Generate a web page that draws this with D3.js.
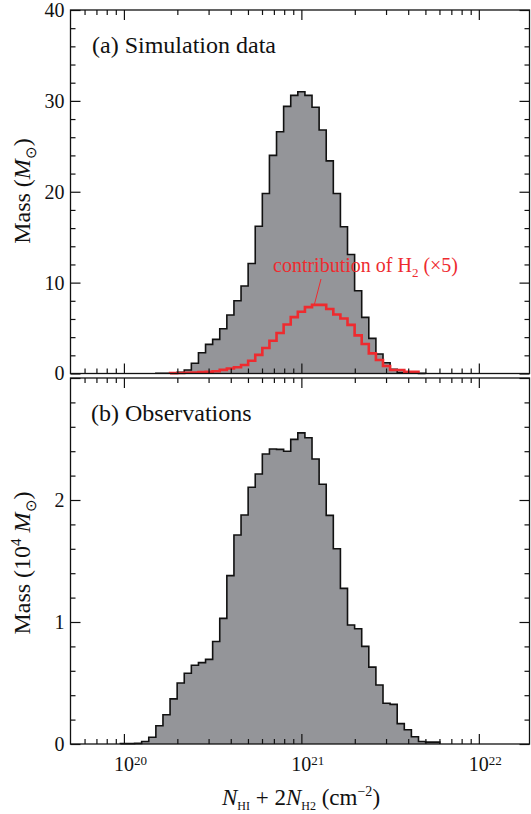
<!DOCTYPE html>
<html>
<head>
<meta charset="utf-8">
<script src="https://cdn.jsdelivr.net/npm/d3@7"></script>
<style>
  body { margin: 0; background: #fff; }
  svg { display: block; }
  text { font-family: "Liberation Serif", "Times New Roman", serif; fill: #111; }
</style>
</head>
<body>
<svg id="chart" width="531" height="814"></svg>
<script>
// Histogram bins: centres in log10(N / cm^-2), bin width 0.04 dex
const binWidth = 0.04;

// (a) simulation: total gas mass per bin (Msun)
const simLogN = [20.20, 20.24, 20.28, 20.32, 20.36, 20.40, 20.44, 20.48, 20.52, 20.56,
                 20.60, 20.64, 20.68, 20.72, 20.76, 20.80, 20.84, 20.88, 20.92, 20.96,
                 21.00, 21.04, 21.08, 21.12, 21.16, 21.20, 21.24, 21.28, 21.32, 21.36,
                 21.40, 21.44, 21.48, 21.52, 21.56, 21.60, 21.64, 21.68];
const simMass = [0.02, 0.03, 0.06, 0.13, 0.39, 1.12, 2.29, 3.2, 3.76, 4.93,
                 6.43, 8.0, 9.63, 12.1, 16.2, 19.8, 24.0, 26.6, 29.4, 30.6,
                 31.0, 30.6, 29.3, 26.8, 23.4, 19.8, 16.15, 13.1, 9.1, 6.18,
                 3.87, 2.15, 1.19, 0.46, 0.12, 0.05, 0.02, 0.01];

// (a) molecular contribution, multiplied by 5
const h2LogN = [20.28, 20.32, 20.36, 20.40, 20.44, 20.48, 20.52, 20.56,
                20.60, 20.64, 20.68, 20.72, 20.76, 20.80, 20.84, 20.88, 20.92, 20.96,
                21.00, 21.04, 21.08, 21.12, 21.16, 21.20, 21.24, 21.28, 21.32, 21.36,
                21.40, 21.44, 21.48, 21.52, 21.56, 21.60, 21.64];
const h2MassX5 = [0.04, 0.05, 0.08, 0.1, 0.15, 0.2, 0.25, 0.4,
                  0.55, 0.68, 0.93, 1.4, 2.05, 2.8, 3.6, 4.45, 5.4, 6.2,
                  6.8, 7.3, 7.55, 7.55, 7.1, 6.5, 6.05, 5.35, 4.2, 3.25,
                  2.22, 1.49, 0.83, 0.39, 0.39, 0.2, 0.2];

// (b) observations: mass per bin (10^4 Msun)
const obsLogN = [20.00, 20.04, 20.08, 20.12, 20.16, 20.20, 20.24, 20.28, 20.32, 20.36,
                 20.40, 20.44, 20.48, 20.52, 20.56, 20.60, 20.64, 20.68, 20.72, 20.76,
                 20.80, 20.84, 20.88, 20.92, 20.96, 21.00, 21.04, 21.08, 21.12, 21.16,
                 21.20, 21.24, 21.28, 21.32, 21.36, 21.40, 21.44, 21.48, 21.52, 21.56,
                 21.60, 21.64, 21.68, 21.72, 21.76];
const obsMass = [0.003, 0.003, 0.005, 0.02, 0.055, 0.15, 0.24, 0.37, 0.50, 0.58,
                 0.645, 0.667, 0.694, 0.84, 1.03, 1.38, 1.713, 1.877, 2.104, 2.213,
                 2.377, 2.418, 2.415, 2.40, 2.497, 2.55, 2.51, 2.336, 2.129, 1.874,
                 1.60, 1.276, 0.975, 0.945, 0.80, 0.63, 0.484, 0.334, 0.325, 0.167,
                 0.117, 0.06, 0.02, 0.015, 0.015];

// Axis ticks
const xMajorTicks = [1e20, 1e21, 1e22];
const xTickExponents = ["20", "21", "22"];
const xMinorTicks = [6e19, 7e19, 8e19, 9e19,
                     2e20, 3e20, 4e20, 5e20, 6e20, 7e20, 8e20, 9e20,
                     2e21, 3e21, 4e21, 5e21, 6e21, 7e21, 8e21, 9e21];
const topYTicks = [0, 10, 20, 30, 40];
const topYMinor = [2, 4, 6, 8, 12, 14, 16, 18, 22, 24, 26, 28, 32, 34, 36, 38];
const botYTicks = [0, 1, 2, 3];
const botYLabels = [0, 1, 2];
const botYMinor = [0.2, 0.4, 0.6, 0.8, 1.2, 1.4, 1.6, 1.8, 2.2, 2.4, 2.6, 2.8];

const svg = d3.select("#chart");
const left = 70.5, right = 529.5;
const x = d3.scaleLog().domain([5e19, 1.93e22]).range([left, right]);
const yTop = d3.scaleLinear().domain([0, 40]).range([373.5, 10]);
const yBot = d3.scaleLinear().domain([0, 3]).range([744, 378]);

const grey = "#949599";
const red = "#ee2b2f";
const tickFont = 20;

// Step outline points for a histogram
function stepPoints(centres, values) {
  const pts = [];
  pts.push([Math.pow(10, centres[0] - binWidth / 2), 0]);
  centres.forEach((c, i) => {
    pts.push([Math.pow(10, c - binWidth / 2), values[i]]);
    pts.push([Math.pow(10, c + binWidth / 2), values[i]]);
  });
  pts.push([Math.pow(10, centres[centres.length - 1] + binWidth / 2), 0]);
  return pts;
}

function drawHist(yScale, centres, values) {
  const pts = stepPoints(centres, values);
  const area = d3.area().x(d => x(d[0])).y0(yScale(0)).y1(d => yScale(d[1]));
  const line = d3.line().x(d => x(d[0])).y(d => yScale(d[1]));
  svg.append("path").attr("d", area(pts)).attr("fill", grey);
  svg.append("path").attr("d", line(pts)).attr("fill", "none")
    .attr("stroke", "#111").attr("stroke-width", 1.6).attr("stroke-linejoin", "miter");
}

function drawFrame(yScale, yTicks, yMinor, yLabels) {
  const [y0, y1] = yScale.range();
  const g = svg.append("g");
  // inward ticks on all four sides
  const axes = [
    [d3.axisLeft(yScale), `translate(${left},0)`, true],
    [d3.axisRight(yScale), `translate(${right},0)`, false]
  ];
  axes.forEach(([ax, tr, labelled]) => {
    g.append("g").attr("transform", tr)
      .call(ax.tickValues(yTicks).tickSize(-10).tickPadding(6)
        .tickFormat(d => (labelled && yLabels.includes(d)) ? d : ""))
      .call(s => s.select(".domain").remove());
    g.append("g").attr("transform", tr)
      .call(ax.tickValues(yMinor).tickSize(-5).tickFormat(""))
      .call(s => s.select(".domain").remove());
  });
  [[d3.axisBottom(x), y0], [d3.axisTop(x), y1]].forEach(([ax, yy]) => {
    g.append("g").attr("transform", `translate(0,${yy})`)
      .call(ax.tickValues(xMajorTicks).tickSize(-10).tickFormat(""))
      .call(s => s.select(".domain").remove());
    g.append("g").attr("transform", `translate(0,${yy})`)
      .call(ax.tickValues(xMinorTicks).tickSize(-5).tickFormat(""))
      .call(s => s.select(".domain").remove());
  });
  g.selectAll(".tick line").attr("stroke", "#111").attr("stroke-width", 1.2);
  g.selectAll(".tick text").attr("font-size", tickFont).attr("fill", "#111")
    .style("font-family", "'Liberation Serif', serif");
  g.append("rect").attr("x", left).attr("y", y1)
    .attr("width", right - left).attr("height", y0 - y1)
    .attr("fill", "none").attr("stroke", "#111").attr("stroke-width", 1.3);
}

// ---- Panel (a)
drawHist(yTop, simLogN, simMass);
const h2Line = d3.line().x(d => x(d[0])).y(d => yTop(d[1]));
svg.append("path").attr("d", h2Line(stepPoints(h2LogN, h2MassX5)))
  .attr("fill", "none").attr("stroke", red).attr("stroke-width", 2.6);
drawFrame(yTop, topYTicks, topYMinor, topYTicks);

// ---- Panel (b)
drawHist(yBot, obsLogN, obsMass);
drawFrame(yBot, botYTicks, botYMinor, botYLabels);

// x tick labels: 10^n
xMajorTicks.forEach((v, i) => {
  svg.append("text").attr("x", x(v)).attr("y", 771)
    .attr("font-size", tickFont).attr("text-anchor", "middle").text("10");
  svg.append("text").attr("x", x(v) + 10).attr("y", 765)
    .attr("font-size", 13).text(xTickExponents[i]);
});

// panel captions
svg.append("text").attr("x", 92).attr("y", 53).attr("font-size", 24)
  .text("(a) Simulation data");
svg.append("text").attr("x", 91).attr("y", 421).attr("font-size", 24)
  .text("(b) Observations");

// H2 annotation
const ann = svg.append("text").attr("x", 273).attr("y", 272)
  .attr("font-size", 20).style("fill", red);
ann.append("tspan").text("contribution of H");
ann.append("tspan").attr("font-size", 13).attr("dy", 5).text("2");
ann.append("tspan").attr("dy", -5).text(" (\u00d75)");
svg.append("line").attr("x1", 321).attr("y1", 279).attr("x2", 314.5).attr("y2", 304)
  .attr("stroke", red).attr("stroke-width", 1);

// y-axis titles
const yt1 = svg.append("text").attr("transform", "translate(30,191) rotate(-90)")
  .attr("text-anchor", "middle").attr("font-size", 24);
yt1.append("tspan").text("Mass (");
yt1.append("tspan").attr("font-style", "italic").text("M");
yt1.append("tspan").attr("font-size", 15).attr("dy", 6).text("\u2299");
yt1.append("tspan").attr("dy", -6).text(")");

const yt2 = svg.append("text").attr("transform", "translate(30,563) rotate(-90)")
  .attr("text-anchor", "middle").attr("font-size", 24);
yt2.append("tspan").text("Mass (10");
yt2.append("tspan").attr("font-size", 15).attr("dy", -9).text("4");
yt2.append("tspan").attr("dy", 9).attr("font-style", "italic").text(" M");
yt2.append("tspan").attr("font-size", 15).attr("dy", 6).text("\u2299");
yt2.append("tspan").attr("dy", -6).text(")");

// x-axis title
const xt = svg.append("text").attr("x", 301).attr("y", 805)
  .attr("text-anchor", "middle").attr("font-size", 23);
xt.append("tspan").attr("font-style", "italic").text("N");
xt.append("tspan").attr("font-size", 12).attr("dy", 5).text("HI");
xt.append("tspan").attr("dy", -5).text(" + 2");
xt.append("tspan").attr("font-style", "italic").text("N");
xt.append("tspan").attr("font-size", 12).attr("dy", 5).text("H2");
xt.append("tspan").attr("dy", -5).text(" (cm");
xt.append("tspan").attr("font-size", 14).attr("dy", -9).text("\u22122");
xt.append("tspan").attr("dy", 9).text(")");
</script>
</body>
</html>
